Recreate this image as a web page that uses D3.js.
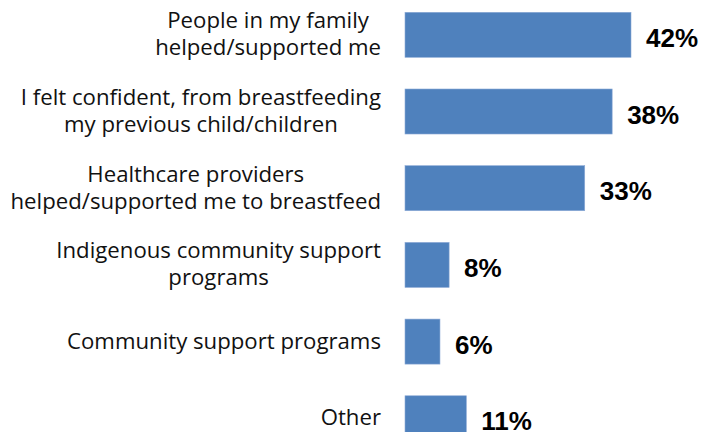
<!DOCTYPE html>
<html>
<head>
<meta charset="utf-8">
<script src="https://cdn.jsdelivr.net/npm/d3@7"></script>
<style>
  body { margin: 0; background: #fff; }
  .cat { font-family: "Open Sans", Lato, sans-serif; font-size: 22.2px; fill: #111; }
  .val { font-family: "Liberation Sans", Arial, sans-serif; font-size: 26px; font-weight: bold; fill: #000; }
</style>
</head>
<body>
<div id="chart"></div>
<script>
/* DATA */
const categories = [
  ["People in my family", "helped/supported me"],
  ["I felt confident, from breastfeeding", "my previous child/children"],
  ["Healthcare providers", "helped/supported me to breastfeed"],
  ["Indigenous community support", "programs"],
  ["Community support programs"],
  ["Other"]
];
const values = [42.0, 38.5, 33.4, 8.2, 6.5, 11.4]; // percent
const valueLabels = ["42%", "38%", "33%", "8%", "6%", "11%"];

/* CONSTANTS */
const width = 716,
  height = 432,
  labelRight = 381,
  lineHeight = 27;

const svg = d3.select("#chart")
  .append("svg")
  .attr("width", width)
  .attr("height", height);

const ids = d3.range(values.length);

// bars start at x=405; 42% ends around x=631
const xScale = d3.scaleLinear()
  .domain([0, 42])
  .range([405, 631]);

const yScale = d3.scaleBand()
  .domain(ids)
  .range([12.3, 440.8])
  .paddingInner(0.413)
  .paddingOuter(0);

// bars
svg.selectAll(".bar")
  .data(ids)
  .join("rect")
  .attr("class", "bar")
  .attr("x", xScale(0))
  .attr("y", i => yScale(i))
  .attr("width", i => xScale(values[i]) - xScale(0))
  .attr("height", yScale.bandwidth())
  .attr("fill", "#4F81BD")
  .attr("stroke", "#8DAAD6")
  .attr("stroke-width", 0.6);

// value labels
svg.selectAll(".val")
  .data(ids)
  .join("text")
  .attr("class", "val")
  .attr("x", i => xScale(values[i]) + 15)
  .attr("y", i => yScale(i) + yScale.bandwidth() / 2 + 12)
  .text(i => valueLabels[i]);

// category labels: lines centred within a right-aligned block
const cat = svg.selectAll(".catg")
  .data(ids)
  .join("g")
  .attr("class", "catg");

cat.each(function(i) {
  const g = d3.select(this);
  const lines = categories[i];
  const cy = yScale(i) + yScale.bandwidth() / 2;
  const texts = lines.map((ln, k) =>
    g.append("text")
      .attr("class", "cat")
      .attr("text-anchor", "middle")
      .attr("y", cy + 7 + (k - (lines.length - 1) / 2) * lineHeight)
      .text(ln)
  );
  const maxW = d3.max(texts, t => t.node().getComputedTextLength());
  texts.forEach(t => t.attr("x", labelRight - maxW / 2));
});
</script>
</body>
</html>
